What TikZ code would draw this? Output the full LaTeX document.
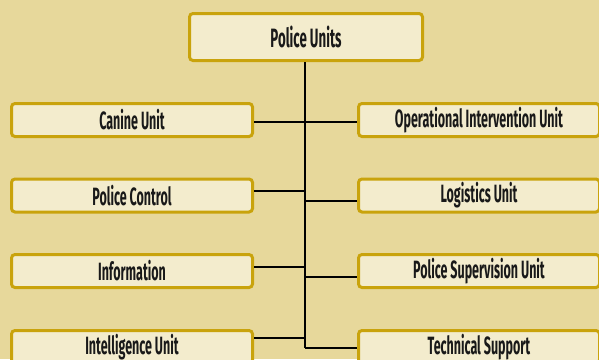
\documentclass[tikz,border=0pt]{standalone}
\usepackage{fontspec}
\setmainfont{Fira Sans}[FakeStretch=0.5]
\definecolor{bgc}{HTML}{E7D89B}
\definecolor{boxfill}{HTML}{F3ECCD}
\definecolor{boxline}{HTML}{C9A30C}
\begin{document}
\begin{tikzpicture}[x=1pt,y=-1pt,
  unitbox/.style={draw=boxline, fill=boxfill, line width=3pt, rounded corners=3.5pt,
    minimum width=241pt, minimum height=33pt, inner sep=0pt, font=\fontsize{25}{27}\selectfont\bfseries, text=black!90},
  topbox/.style={unitbox, minimum width=233pt, minimum height=47pt, font=\fontsize{26.5}{28}\selectfont\bfseries},
  link/.style={draw=black, line width=2pt}]
\fill[bgc] (0,0) rectangle (599,359);
\useasboundingbox (0,0) rectangle (599,359);
\node[topbox] (top) at (306,37) {Police Units};
\node[unitbox] (canine) at (132,120) {Canine Unit};
\node[unitbox] (control) at (132,195.5) {Police Control};
\node[unitbox] (info) at (132,271) {Information};
\node[unitbox] (intel) at (132,347) {Intelligence Unit};
\node[unitbox] (oper) at (479,120) {Operational Intervention Unit};
\node[unitbox] (logi) at (479,195.5) {Logistics Unit};
\node[unitbox] (super) at (479,271) {Police Supervision Unit};
\node[unitbox] (tech) at (479,347) {Technical Support};
\coordinate (tend) at (305,348);
\coordinate (l1) at (305,122);
\coordinate (l2) at (305,191);
\coordinate (l3) at (305,267);
\coordinate (l4) at (305,338);
\coordinate (r1) at (305,122);
\coordinate (r2) at (305,201);
\coordinate (r3) at (305,277);
\draw[link] (top.south -| tend) -- (tend);
\draw[link] (l1) -- (canine.east |- l1);
\draw[link] (l2) -- (control.east |- l2);
\draw[link] (l3) -- (info.east |- l3);
\draw[link] (l4) -- (intel.east |- l4);
\draw[link] (r1) -- (oper.west |- r1);
\draw[link] (r2) -- (logi.west |- r2);
\draw[link] (r3) -- (super.west |- r3);
\draw[link] (tend) -- (tech.west |- tend);
\end{tikzpicture}
\end{document}
